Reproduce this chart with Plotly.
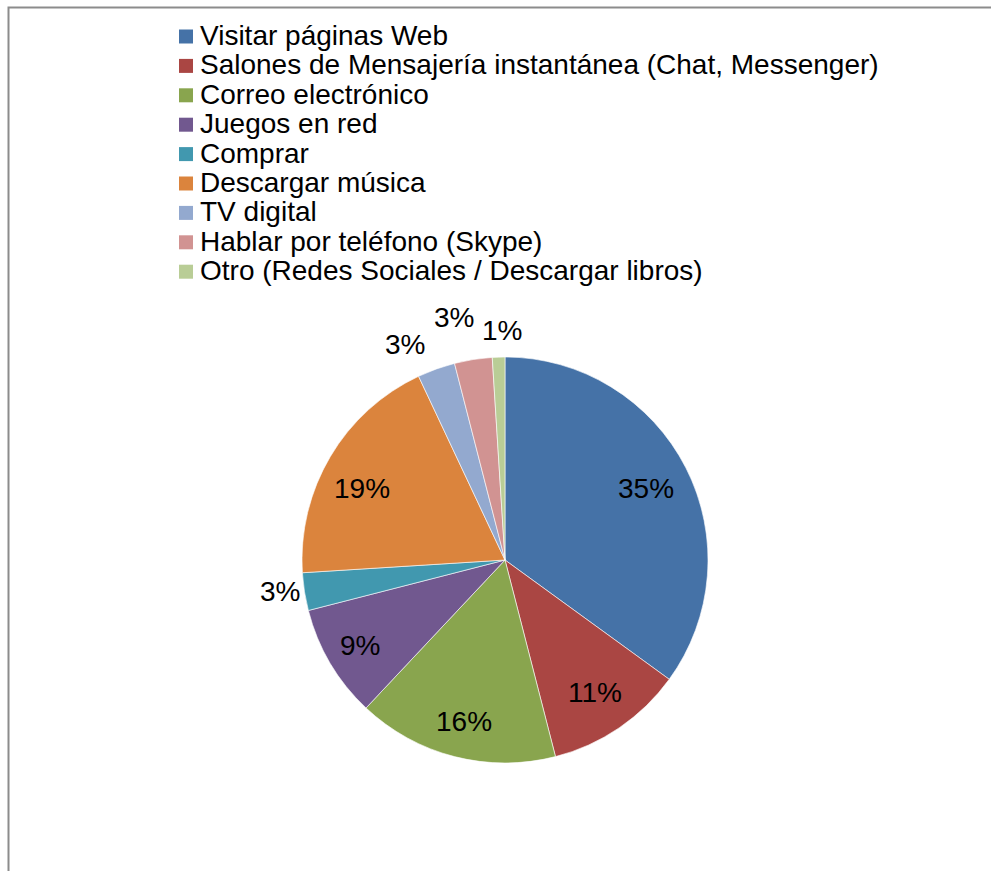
import math
import plotly.graph_objects as go

# Uso de Internet: actividades realizadas (porcentaje)
categorias = [
    "Visitar páginas Web",
    "Salones de Mensajería instantánea (Chat, Messenger)",
    "Correo electrónico",
    "Juegos en red",
    "Comprar",
    "Descargar música",
    "TV digital",
    "Hablar por teléfono (Skype)",
    "Otro (Redes Sociales / Descargar libros)",
]
porcentajes = [35, 11, 16, 9, 3, 19, 3, 3, 1]
colores = ["#4572A7", "#AA4643", "#89A54E", "#71588F", "#4198AF",
           "#DB843D", "#93A9CF", "#D19392", "#B9CD96"]

W, H = 991, 871
FUENTE = "Liberation Sans, Arial, sans-serif"
TAM = 28

# Geometría del pastel (píxeles)
CX, CY, R = 505, 560, 203

# Colocación de cada etiqueta: distancia relativa al radio y ajuste angular (grados)
dist_etiqueta = [0.78, 0.79, 0.82, 0.83, 1.12, 0.79, 1.17, 1.22, 1.13]
ajuste_angulo = [0, 0, 0, 0, 1, -4, -5, -3, 1]

fig = go.Figure(go.Pie(
    labels=categorias,
    values=porcentajes,
    sort=False,
    direction="clockwise",
    rotation=0,
    marker=dict(colors=colores, line=dict(color="white", width=0.6)),
    textinfo="none",
    domain=dict(x=[(CX - R) / W, (CX + R) / W], y=[1 - (CY + R) / H, 1 - (CY - R) / H]),
    hoverinfo="label+percent",
    showlegend=False,
))

anotaciones = []
total = sum(porcentajes)
acumulado = 0
for i, v in enumerate(porcentajes):
    centro = (acumulado + v / 2) / total * 360 + ajuste_angulo[i]
    acumulado += v
    a = math.radians(centro)
    d = dist_etiqueta[i] * R
    px = CX + d * math.sin(a)
    py = CY - d * math.cos(a)
    anotaciones.append(dict(
        x=px / W, y=1 - py / H, xref="paper", yref="paper",
        text=f"{round(v / total * 100)}%", showarrow=False,
        xanchor="center", yanchor="middle",
        font=dict(family=FUENTE, size=TAM, color="black"),
    ))

# Leyenda: cuadros de color y textos, una fila por categoría
formas = []
LEY_X, LEY_Y0, LEY_PASO, CUADRO = 179, 36.5, 29.4, 14
for i, (nombre, color) in enumerate(zip(categorias, colores)):
    yc = LEY_Y0 + i * LEY_PASO
    formas.append(dict(
        type="rect", xref="paper", yref="paper",
        x0=LEY_X / W, x1=(LEY_X + CUADRO) / W,
        y0=1 - (yc + CUADRO / 2) / H, y1=1 - (yc - CUADRO / 2) / H,
        line=dict(width=0), fillcolor=color,
    ))
    anotaciones.append(dict(
        x=(LEY_X + CUADRO + 5) / W, y=1 - (yc - 1) / H, xref="paper", yref="paper",
        text=nombre, showarrow=False, xanchor="left", yanchor="middle",
        font=dict(family=FUENTE, size=TAM, color="black"),
    ))

# Marco del área del gráfico
formas.append(dict(
    type="rect", xref="paper", yref="paper",
    x0=8.5 / W, x1=1.05, y0=-0.05, y1=1 - 7.5 / H,
    line=dict(color="#8c8c8c", width=2), fillcolor="rgba(0,0,0,0)",
    layer="above",
))

fig.update_layout(
    width=W, height=H,
    margin=dict(l=0, r=0, t=0, b=0),
    paper_bgcolor="white",
    plot_bgcolor="white",
    font=dict(family=FUENTE, color="black"),
    annotations=anotaciones,
    shapes=formas,
)

fig.write_html("out.html")
